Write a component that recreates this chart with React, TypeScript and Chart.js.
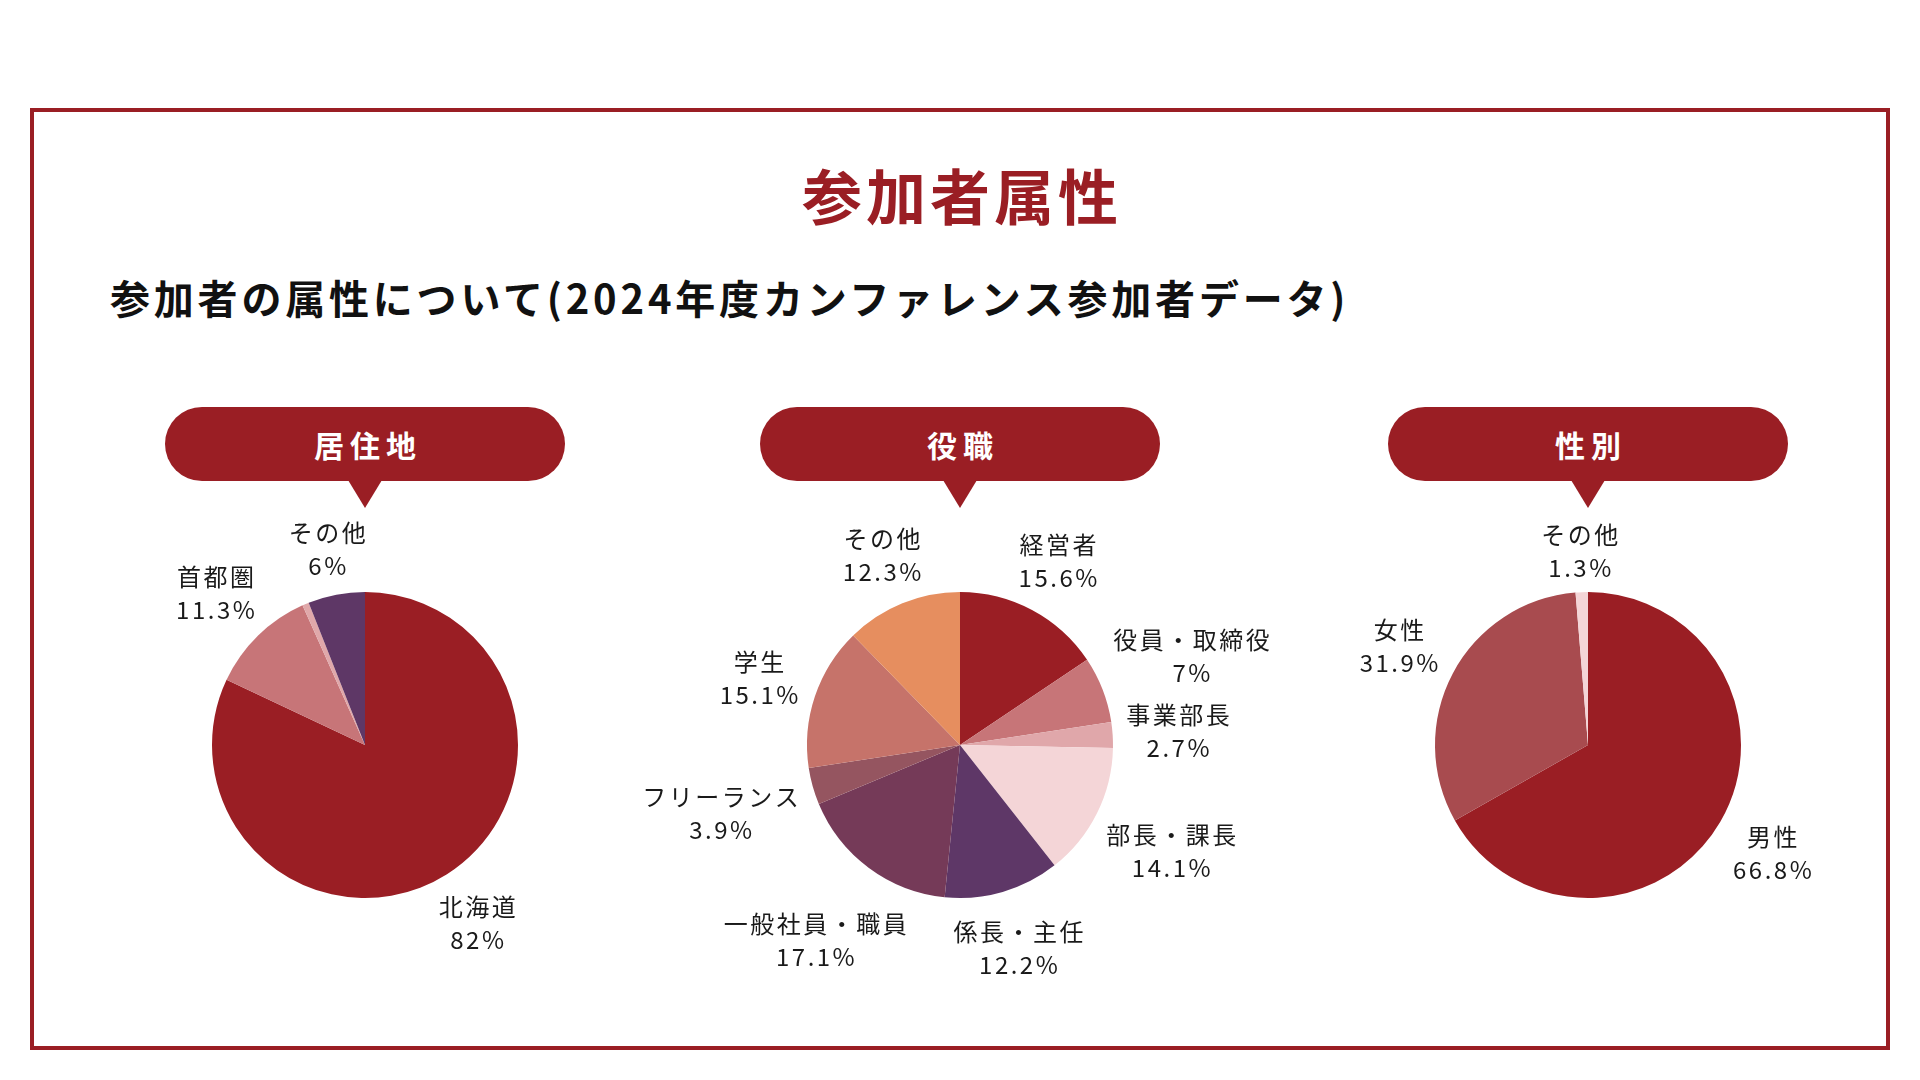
import React, { useEffect, useRef } from "react";
import { Chart, registerables } from "chart.js";

Chart.register(...registerables);

const MAIN_TITLE = "参加者属性";
const SUBTITLE = "参加者の属性について(2024年度カンファレンス参加者データ)";

const residenceTitle = "居住地";
const residenceLabels = ["北海道", "首都圏", "", "その他"];
const residenceValues = [82, 11.3, 0.7, 6];
const residenceColors = ["#9a1e24", "#c77578", "#e0a8aa", "#5e3766"];

const positionTitle = "役職";
const positionLabels = [
  "経営者",
  "役員・取締役",
  "事業部長",
  "部長・課長",
  "係長・主任",
  "一般社員・職員",
  "フリーランス",
  "学生",
  "その他",
];
const positionValues = [15.6, 7, 2.7, 14.1, 12.2, 17.1, 3.9, 15.1, 12.3];
const positionColors = [
  "#9a1e24",
  "#c77578",
  "#e0a7aa",
  "#f4d5d7",
  "#5e3767",
  "#753a58",
  "#955560",
  "#c6736a",
  "#e68e5f",
];

const genderTitle = "性別";
const genderLabels = ["男性", "女性", "その他"];
const genderValues = [66.8, 31.9, 1.3];
const genderColors = ["#9a1e24", "#a84b4f", "#f4d5d7"];

const RED = "#9a1e24";
const FONT = '"Noto Sans CJK JP", "Noto Sans", sans-serif';

const CANVAS_W = 640;
const CANVAS_H = 520;
const PIE_R = 153;

const outsideLabels = {
  id: "outsideLabels",
  afterDatasetsDraw(chart: any) {
    const ctx = chart.ctx as CanvasRenderingContext2D;
    const meta = chart.getDatasetMeta(0);
    const data = chart.data.datasets[0].data as number[];
    const labels = chart.data.labels as string[];
    ctx.save();
    ctx.font = `400 24px ${FONT}`;
    (ctx as any).letterSpacing = "2.5px";
    ctx.fillStyle = "#1a1a1a";
    ctx.textAlign = "center";
    ctx.textBaseline = "middle";
    const lineGap = 33;
    const boxH = 58;
    const gap = 11;
    meta.data.forEach((arc: any, i: number) => {
      const name = labels[i];
      if (!name) return;
      const p = arc.getProps(["x", "y", "startAngle", "endAngle", "outerRadius"], true);
      const mid = (p.startAngle + p.endAngle) / 2;
      const dx = Math.cos(mid);
      const dy = Math.sin(mid);
      const l1 = name;
      const l2 = `${data[i]}%`;
      const w = Math.max(ctx.measureText(l1).width, ctx.measureText(l2).width);
      const extent = Math.abs(dx) * (w / 2) + Math.abs(dy) * (boxH / 2);
      const dist = p.outerRadius + gap + extent;
      const cx = p.x + dx * dist + 1;
      const cy = p.y + dy * dist + 1;
      ctx.fillText(l1, cx, cy - lineGap / 2);
      ctx.fillText(l2, cx, cy + lineGap / 2);
    });
    ctx.restore();
  },
};

function PieChart(props: {
  labels: string[];
  values: number[];
  colors: string[];
  cx: number;
  cy: number;
}) {
  const ref = useRef<HTMLCanvasElement | null>(null);
  useEffect(() => {
    if (!ref.current) return;
    const padX = (CANVAS_W - PIE_R * 2) / 2;
    const padY = (CANVAS_H - PIE_R * 2) / 2;
    const chart = new Chart(ref.current, {
      type: "pie",
      data: {
        labels: props.labels,
        datasets: [
          {
            data: props.values,
            backgroundColor: props.colors,
            borderWidth: 0,
          },
        ],
      },
      options: {
        animation: false,
        responsive: false,
        events: [],
        layout: { padding: { left: padX, right: padX, top: padY, bottom: padY } },
        plugins: {
          legend: { display: false },
          tooltip: { enabled: false },
        },
      },
      plugins: [outsideLabels],
    });
    return () => chart.destroy();
  }, []);
  return (
    <canvas
      ref={ref}
      width={CANVAS_W}
      height={CANVAS_H}
      style={{
        position: "absolute",
        left: props.cx - CANVAS_W / 2,
        top: props.cy - CANVAS_H / 2,
        width: CANVAS_W,
        height: CANVAS_H,
      }}
    />
  );
}

function Pill(props: { text: string; cx: number }) {
  const w = 400;
  const h = 74;
  return (
    <div style={{ position: "absolute", left: props.cx - w / 2, top: 407, width: w, height: h }}>
      <div
        style={{
          width: w,
          height: h,
          borderRadius: 37,
          background: RED,
          color: "#fff",
          fontFamily: FONT,
          fontWeight: 700,
          fontSize: 30,
          letterSpacing: 6,
          paddingLeft: 6,
          boxSizing: "border-box",
          display: "flex",
          alignItems: "center",
          justifyContent: "center",
          lineHeight: 1,
        }}
      >
        {props.text}
      </div>
      <div
        style={{
          position: "absolute",
          left: w / 2 - 17,
          top: h - 1,
          width: 0,
          height: 0,
          borderLeft: "17px solid transparent",
          borderRight: "17px solid transparent",
          borderTop: `28px solid ${RED}`,
        }}
      />
    </div>
  );
}

export default function App() {
  return (
    <div
      style={{
        position: "fixed",
        left: 0,
        top: 0,
        width: 1920,
        height: 1080,
        background: "#fff",
        overflow: "hidden",
      }}
    >
      <div
        style={{
          position: "absolute",
          left: 30,
          top: 108,
          width: 1860,
          height: 942,
          border: `4px solid ${RED}`,
          boxSizing: "border-box",
        }}
      />
      <div
        style={{
          position: "absolute",
          left: 0,
          width: 1920,
          top: 164,
          textAlign: "center",
          fontFamily: FONT,
          fontWeight: 700,
          fontSize: 60,
          lineHeight: "60px",
          letterSpacing: 4,
          paddingLeft: 4,
          boxSizing: "border-box",
          color: RED,
        }}
      >
        {MAIN_TITLE}
      </div>
      <div
        style={{
          position: "absolute",
          left: 110,
          top: 277,
          fontFamily: FONT,
          fontWeight: 700,
          fontSize: 40,
          lineHeight: "40px",
          letterSpacing: 3.8,
          color: "#111",
          whiteSpace: "nowrap",
        }}
      >
        {SUBTITLE}
      </div>
      <Pill text={residenceTitle} cx={365} />
      <Pill text={positionTitle} cx={960} />
      <Pill text={genderTitle} cx={1588} />
      <PieChart labels={residenceLabels} values={residenceValues} colors={residenceColors} cx={365} cy={745} />
      <PieChart labels={positionLabels} values={positionValues} colors={positionColors} cx={960} cy={745} />
      <PieChart labels={genderLabels} values={genderValues} colors={genderColors} cx={1588} cy={745} />
    </div>
  );
}
